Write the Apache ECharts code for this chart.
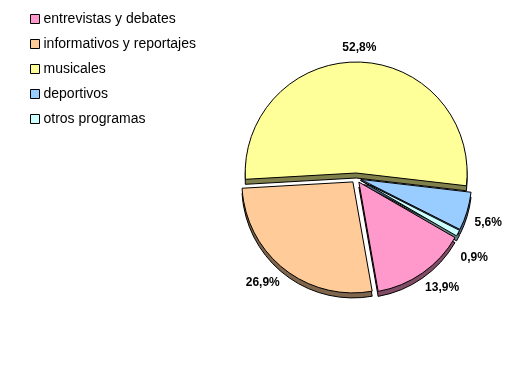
<!DOCTYPE html>
<html>
<head>
<meta charset="utf-8">
<script src="https://cdn.jsdelivr.net/npm/echarts@6/dist/echarts.min.js"></script>
<style>html,body{margin:0;padding:0;background:#fff}#c{width:530px;height:365px}</style>
</head>
<body>
<div id="c"></div>
<script>
var categories = ['entrevistas y debates', 'informativos y reportajes', 'musicales', 'deportivos', 'otros programas'];
var values = [13.9, 26.9, 52.8, 5.6, 0.9];
var topColors = ['#FF99CC', '#FFCC99', '#FFFF99', '#99CCFF', '#CCFFFF'];
var sideColors = ['#804C66', '#80664C', '#80804C', '#4C6680', '#668080'];
// label placement tuning per slice: [labelLine length, labelLine length2]
var labelLens = [[18.3, -13], [18.1, -12], [14.1, -22.5], [38.0, -33.9], [51.6, -47.9]];

var chart = echarts.init(document.getElementById('c'), null, {renderer: 'canvas'});
var cx = 356, cy = 178, r = 111, depth = 5, startAngle = -30, explode = 5;

function makeData(colors, withLabel) {
  return categories.map(function (n, i) {
    var d = {name: n, value: values[i], selected: true, itemStyle: {color: colors[i]}};
    if (withLabel) d.labelLine = {show: false, length: labelLens[i][0], length2: labelLens[i][1]};
    return d;
  });
}

chart.setOption({
  animation: false,
  legend: {
    orient: 'vertical', left: 30, top: 12, padding: 0, itemWidth: 9, itemHeight: 9, itemGap: 11,
    icon: 'rect', selectedMode: false,
    itemStyle: {borderColor: '#000', borderWidth: 1},
    textStyle: {fontFamily: 'Liberation Sans, Arial', fontSize: 14, color: '#000', padding: [0, 0, 0, -1]},
    data: categories
  },
  series: [
    {
      type: 'pie', name: 'top', z: 3,
      center: [cx, cy], radius: [0, r], startAngle: startAngle, clockwise: true,
      selectedMode: 'multiple', selectedOffset: explode, avoidLabelOverlap: false,
      itemStyle: {borderColor: '#000', borderWidth: 1},
      emphasis: {disabled: true}, silent: true,
      label: {
        show: true, position: 'outside', color: '#000',
        fontFamily: 'Liberation Sans, Arial', fontWeight: 'bold', fontSize: 12,
        formatter: function (p) { return p.value.toFixed(1).replace('.', ',') + '%'; }
      },
      labelLine: {show: false},
      data: makeData(topColors, true)
    },
    {
      type: 'pie', name: 'side', z: 2,
      center: [cx, cy + depth], radius: [0, r], startAngle: startAngle, clockwise: true,
      selectedMode: 'multiple', selectedOffset: explode,
      itemStyle: {borderColor: '#000', borderWidth: 1},
      emphasis: {disabled: true}, silent: true,
      label: {show: false}, labelLine: {show: false},
      data: makeData(sideColors, false)
    }
  ]
});
</script>
</body>
</html>
